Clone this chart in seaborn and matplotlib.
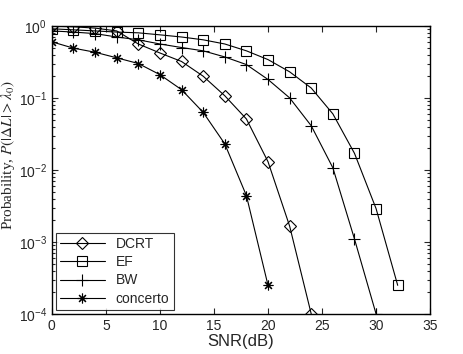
import numpy as np
import pandas as pd
import matplotlib
matplotlib.use("Agg")
import matplotlib.pyplot as plt
import seaborn as sns

# values
snr_dcrt = [0, 2, 4, 6, 8, 10, 12, 14, 16, 18, 20, 22, 24]
p_dcrt = [0.99, 0.97, 0.93, 0.85, 0.56, 0.42, 0.32, 0.20, 0.107, 0.051, 0.013, 0.00166, 1.0e-4]

snr_ef = [0, 2, 4, 6, 8, 10, 12, 14, 16, 18, 20, 22, 24, 26, 28, 30, 32]
p_ef = [0.91, 0.88, 0.85, 0.82, 0.80, 0.75, 0.70, 0.64, 0.56, 0.45, 0.34, 0.23, 0.137, 0.06, 0.017, 0.0029, 2.5e-4]

snr_bw = [0, 2, 4, 6, 8, 10, 12, 14, 16, 18, 20, 22, 24, 26, 28, 30]
p_bw = [0.85, 0.82, 0.78, 0.70, 0.64, 0.56, 0.50, 0.45, 0.37, 0.29, 0.18, 0.10, 0.041, 0.0107, 0.0011, 1.0e-4]

snr_conc = [0, 2, 4, 6, 8, 10, 12, 14, 16, 18, 20]
p_conc = [0.60, 0.49, 0.43, 0.36, 0.30, 0.21, 0.13, 0.063, 0.023, 0.0044, 2.5e-4]

series = ["DCRT", "EF", "BW", "concerto"]
# asterisk-style marker for concerto, like MATLAB's '*'
markers = {"DCRT": "D", "EF": "s", "BW": "+", "concerto": (8, 2, 0)}
sizes = {"DCRT": 6, "EF": 7, "BW": 8, "concerto": 7}

df = pd.concat([
    pd.DataFrame({"snr": snr_dcrt, "p": p_dcrt, "method": "DCRT"}),
    pd.DataFrame({"snr": snr_ef, "p": p_ef, "method": "EF"}),
    pd.DataFrame({"snr": snr_bw, "p": p_bw, "method": "BW"}),
    pd.DataFrame({"snr": snr_conc, "p": p_conc, "method": "concerto"}),
])

sns.set_style("ticks")
plt.rcParams["font.family"] = ["Liberation Sans", "DejaVu Sans"]
plt.rcParams["mathtext.fontset"] = "stix"
plt.rcParams["xtick.direction"] = "in"
plt.rcParams["ytick.direction"] = "in"

fig = plt.figure(figsize=(4.63, 3.54), dpi=100)
ax = fig.add_axes([0.112, 0.113, 0.817, 0.814])

for name in series:
    sub = df[df["method"] == name]
    sns.lineplot(data=sub, x="snr", y="p", ax=ax, color="black", lw=0.8,
                 marker=markers[name], markersize=sizes[name],
                 markerfacecolor="none", markeredgecolor="black",
                 markeredgewidth=0.8, label=name)

ax.set_yscale("log")
ax.set_xlim(0, 35)
ax.set_ylim(1e-4, 1)
ax.set_xticks([0, 5, 10, 15, 20, 25, 30, 35])
ax.set_yticks([1e-4, 1e-3, 1e-2, 1e-1, 1])
ax.tick_params(which="both", top=True, right=True, labelsize=10, width=0.8)
ax.tick_params(which="major", length=4)
ax.tick_params(which="minor", length=2)
for s in ax.spines.values():
    s.set_linewidth(1.0)
    s.set_color("black")

ax.set_xlabel("SNR(dB)", fontsize=12, labelpad=1)
ax.set_ylabel(r"Probability, $P(|\Delta L| > \lambda_0)$", fontsize=11,
              family=["Liberation Serif", "DejaVu Serif"])
ax.yaxis.set_label_coords(-0.092, 0.55)

leg = ax.legend(loc="lower left", fontsize=10, frameon=True, fancybox=False,
                edgecolor="black", handlelength=3.2, borderaxespad=0.3,
                labelspacing=0.3, borderpad=0.3)
leg.get_frame().set_linewidth(0.8)

fig.savefig("out.png", dpi=100)
